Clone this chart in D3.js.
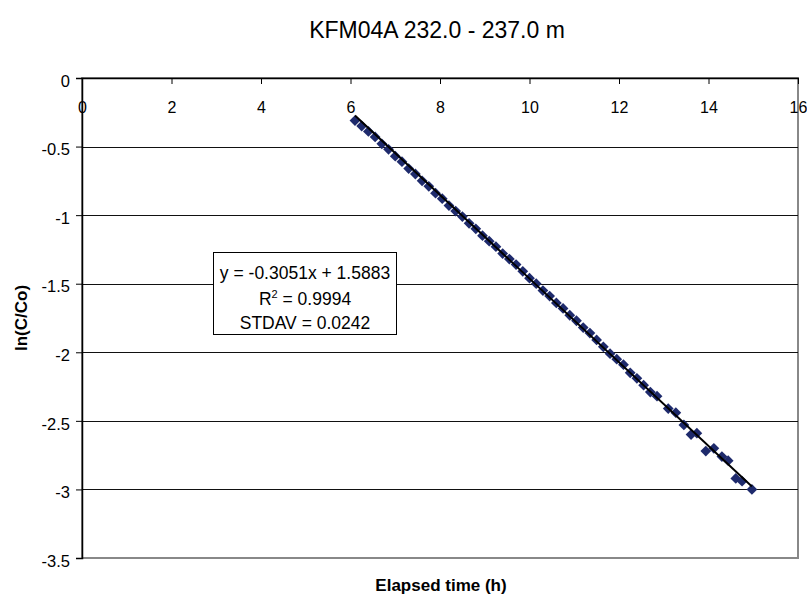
<!DOCTYPE html>
<html>
<head>
<meta charset="utf-8">
<script src="https://cdn.jsdelivr.net/npm/d3@7"></script>
<style>
  html, body { margin: 0; padding: 0; background: #fff; }
  svg { display: block; font-family: "Liberation Sans", Arial, sans-serif; }
</style>
</head>
<body>
<svg id="chart" width="807" height="604"></svg>
<script>
// Tracer breakthrough: elapsed time (h) vs ln(C/Co)
const timeH = [6.10, 6.25, 6.40, 6.55, 6.70, 6.85, 7.00, 7.15, 7.30, 7.45,
               7.60, 7.75, 7.90, 8.05, 8.20, 8.35, 8.50, 8.65, 8.80, 8.95,
               9.10, 9.25, 9.40, 9.55, 9.70, 9.85, 10.00, 10.15, 10.30, 10.45,
               10.60, 10.75, 10.90, 11.05, 11.20, 11.35, 11.50, 11.65, 11.80, 11.95,
               12.10, 12.25, 12.40, 12.55, 12.70, 12.85, 13.10, 13.27, 13.45, 13.61,
               13.74, 13.94, 14.12, 14.30, 14.44, 14.61, 14.75, 14.97];
const lnCCo = [-0.31, -0.35, -0.39, -0.43, -0.48, -0.52, -0.57, -0.61, -0.66, -0.70,
               -0.75, -0.79, -0.84, -0.88, -0.93, -0.97, -1.01, -1.06, -1.10, -1.15,
               -1.19, -1.23, -1.28, -1.32, -1.36, -1.41, -1.46, -1.50, -1.55, -1.59,
               -1.64, -1.68, -1.73, -1.77, -1.82, -1.86, -1.91, -1.96, -2.01, -2.05,
               -2.09, -2.15, -2.19, -2.24, -2.29, -2.32, -2.41, -2.44, -2.53, -2.60,
               -2.59, -2.72, -2.70, -2.76, -2.79, -2.92, -2.94, -3.00];

// Linear fit reported in the annotation box
const fitSlope = -0.3051;
const fitIntercept = 1.5883;
const fitLines = ["y = -0.3051x + 1.5883", "R2 = 0.9994", "STDAV = 0.0242"];

const xTicks = [0, 2, 4, 6, 8, 10, 12, 14, 16];
const yTicks = [0, -0.5, -1, -1.5, -2, -2.5, -3, -3.5];

const title = "KFM04A 232.0 - 237.0 m";
const xTitle = "Elapsed time (h)";
const yTitle = "ln(C/Co)";

const svg = d3.select("#chart");
const plot = { left: 82, top: 78, right: 798, bottom: 558 };

const x = d3.scaleLinear().domain([0, 16]).range([plot.left, plot.right]);
const y = d3.scaleLinear().domain([0, -3.5]).range([plot.top, plot.bottom]);

// Plot area border (right and bottom in grey)
svg.append("rect")
  .attr("x", plot.left).attr("y", plot.top)
  .attr("width", plot.right - plot.left).attr("height", plot.bottom - plot.top)
  .attr("fill", "none").attr("stroke", "#888").attr("stroke-width", 1.5)
  .attr("shape-rendering", "crispEdges");

// Horizontal gridlines
svg.append("g")
  .selectAll("line")
  .data(yTicks.filter(d => d !== 0 && d !== -3.5))
  .join("line")
  .attr("x1", plot.left).attr("x2", plot.right)
  .attr("y1", d => Math.round(y(d)) + 0.5).attr("y2", d => Math.round(y(d)) + 0.5)
  .attr("stroke", "#111").attr("stroke-width", 1);

// Y axis on the left, ticks outward
const yAxis = svg.append("g")
  .attr("transform", `translate(${plot.left},0)`)
  .call(d3.axisLeft(y).tickValues(yTicks).tickSize(6).tickPadding(6)
        .tickFormat(d => d3.format("")(d).replace("\u2212", "-")));
yAxis.select(".domain").attr("stroke", "#000").attr("stroke-width", 1.5);
yAxis.selectAll(".tick line").attr("stroke", "#000");
yAxis.selectAll("text").attr("font-size", 16.5).attr("fill", "#000").attr("dy", "0.5em")
  .attr("font-family", "'Liberation Sans', Arial, sans-serif");

// X axis crossing at y = 0 (top), ticks inward, labels beneath
const xAxis = svg.append("g")
  .attr("transform", `translate(0,${plot.top})`)
  .call(d3.axisBottom(x).tickValues(xTicks).tickSizeInner(6).tickSizeOuter(0).tickPadding(18)
        .tickFormat(d3.format("d")));
xAxis.select(".domain").attr("stroke", "#000").attr("stroke-width", 1.5);
xAxis.selectAll(".tick line").attr("stroke", "#000");
xAxis.selectAll("text").attr("font-size", 16).attr("fill", "#000")
  .attr("font-family", "'Liberation Sans', Arial, sans-serif");

// Data markers: diamonds
const pts = timeH.map((t, i) => ({ t, v: lnCCo[i] }));
const diamond = d3.symbol().type(d3.symbolSquare).size(58);
svg.append("g")
  .selectAll("path")
  .data(pts)
  .join("path")
  .attr("d", diamond)
  .attr("transform", d => `translate(${x(d.t)},${y(d.v)}) rotate(45)`)
  .attr("fill", "#1e2a6c");

// Fitted trend line across the data range
const xMin = d3.min(timeH), xMax = d3.max(timeH);
svg.append("line")
  .attr("x1", x(xMin)).attr("y1", y(fitSlope * xMin + fitIntercept))
  .attr("x2", x(xMax)).attr("y2", y(fitSlope * xMax + fitIntercept))
  .attr("stroke", "#000").attr("stroke-width", 2);

// Annotation box with the fit equation
const box = svg.append("g");
box.append("rect")
  .attr("x", 213.5).attr("y", 252.5).attr("width", 183).attr("height", 82)
  .attr("fill", "#fff").attr("stroke", "#000").attr("stroke-width", 1);
const bx = 305;
box.append("text").attr("x", bx).attr("y", 279).attr("text-anchor", "middle")
  .attr("font-size", 17.5).text(fitLines[0]);
const r2 = box.append("text").attr("x", bx).attr("y", 305).attr("text-anchor", "middle")
  .attr("font-size", 17.5);
r2.append("tspan").text("R");
r2.append("tspan").attr("font-size", 11).attr("dy", -7).text("2");
r2.append("tspan").attr("dy", 7).text(" = 0.9994");
box.append("text").attr("x", bx).attr("y", 329).attr("text-anchor", "middle")
  .attr("font-size", 17.5).text(fitLines[2]);

// Titles
svg.append("text").attr("x", 437).attr("y", 38).attr("text-anchor", "middle")
  .attr("font-size", 23).text(title);
svg.append("text").attr("x", 441).attr("y", 591).attr("text-anchor", "middle")
  .attr("font-size", 17).attr("font-weight", "bold").text(xTitle);
svg.append("text")
  .attr("transform", `translate(27,${(plot.top + plot.bottom) / 2}) rotate(-90)`)
  .attr("text-anchor", "middle")
  .attr("font-size", 17).attr("font-weight", "bold").text(yTitle);
</script>
</body>
</html>
